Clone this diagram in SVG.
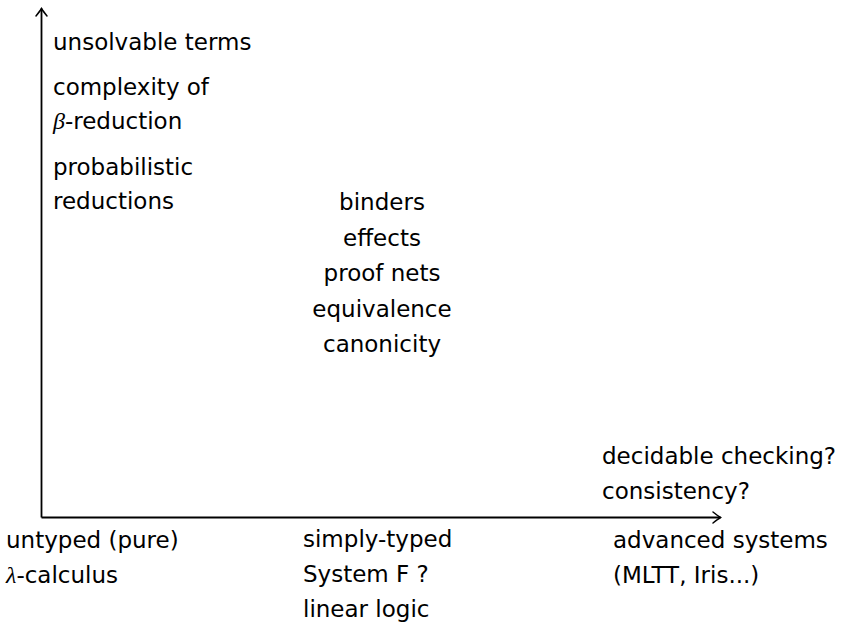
<svg xmlns="http://www.w3.org/2000/svg" width="844" height="625" viewBox="0 0 844 625">
<style>
text{font-family:"DejaVu Sans","Liberation Sans",sans-serif;font-size:23px;fill:#000}
.m{font-family:"Liberation Serif","DejaVu Serif",serif;font-style:italic;font-size:24px}
.c{text-anchor:middle}
.ax{fill:none;stroke:#000;stroke-width:1.8}
</style>
<defs>
<marker id="arr" markerUnits="userSpaceOnUse" markerWidth="16" markerHeight="16" viewBox="-10 -8 12 16" refX="0" refY="0" orient="auto" overflow="visible">
<path d="M-7.5,-5.5 Q-2.5,-1.5 0,0 Q-2.5,1.5 -7.5,5.5" fill="none" stroke="#000" stroke-width="1.5" stroke-linecap="round"/>
</marker>
</defs>
<rect width="844" height="625" fill="#fff"/>
<g id="connectors">
<path class="ax" d="M41.5,517.5 V8.5" marker-end="url(#arr)"/>
<path class="ax" d="M41.5,517.5 H720.5" marker-end="url(#arr)"/>
</g>
<g id="n-unsolvable"><text x="53" y="50">unsolvable terms</text></g>
<g id="n-complexity"><text x="53" y="95">complexity of</text><text x="53" y="129"><tspan class="m">β</tspan>-reduction</text></g>
<g id="n-probabilistic"><text x="53" y="175">probabilistic</text><text x="53" y="209">reductions</text></g>
<g id="n-middle" class="c">
<text class="c" x="382" y="210">binders</text>
<text class="c" x="382" y="245.5">effects</text>
<text class="c" x="382" y="281">proof nets</text>
<text class="c" x="382" y="316.5">equivalence</text>
<text class="c" x="382" y="352">canonicity</text>
</g>
<g id="n-decidable"><text x="602" y="464">decidable checking?</text><text x="602" y="499">consistency?</text></g>
<g id="n-untyped"><text x="6" y="548">untyped (pure)</text><text x="6" y="583"><tspan class="m">λ</tspan>-calculus</text></g>
<g id="n-simply"><text x="303" y="547">simply-typed</text><text x="303" y="582">System F ?</text><text x="303" y="617">linear logic</text></g>
<g id="n-advanced"><text x="613" y="548">advanced systems</text><text x="613" y="583">(MLTT, Iris...)</text></g>
</svg>
